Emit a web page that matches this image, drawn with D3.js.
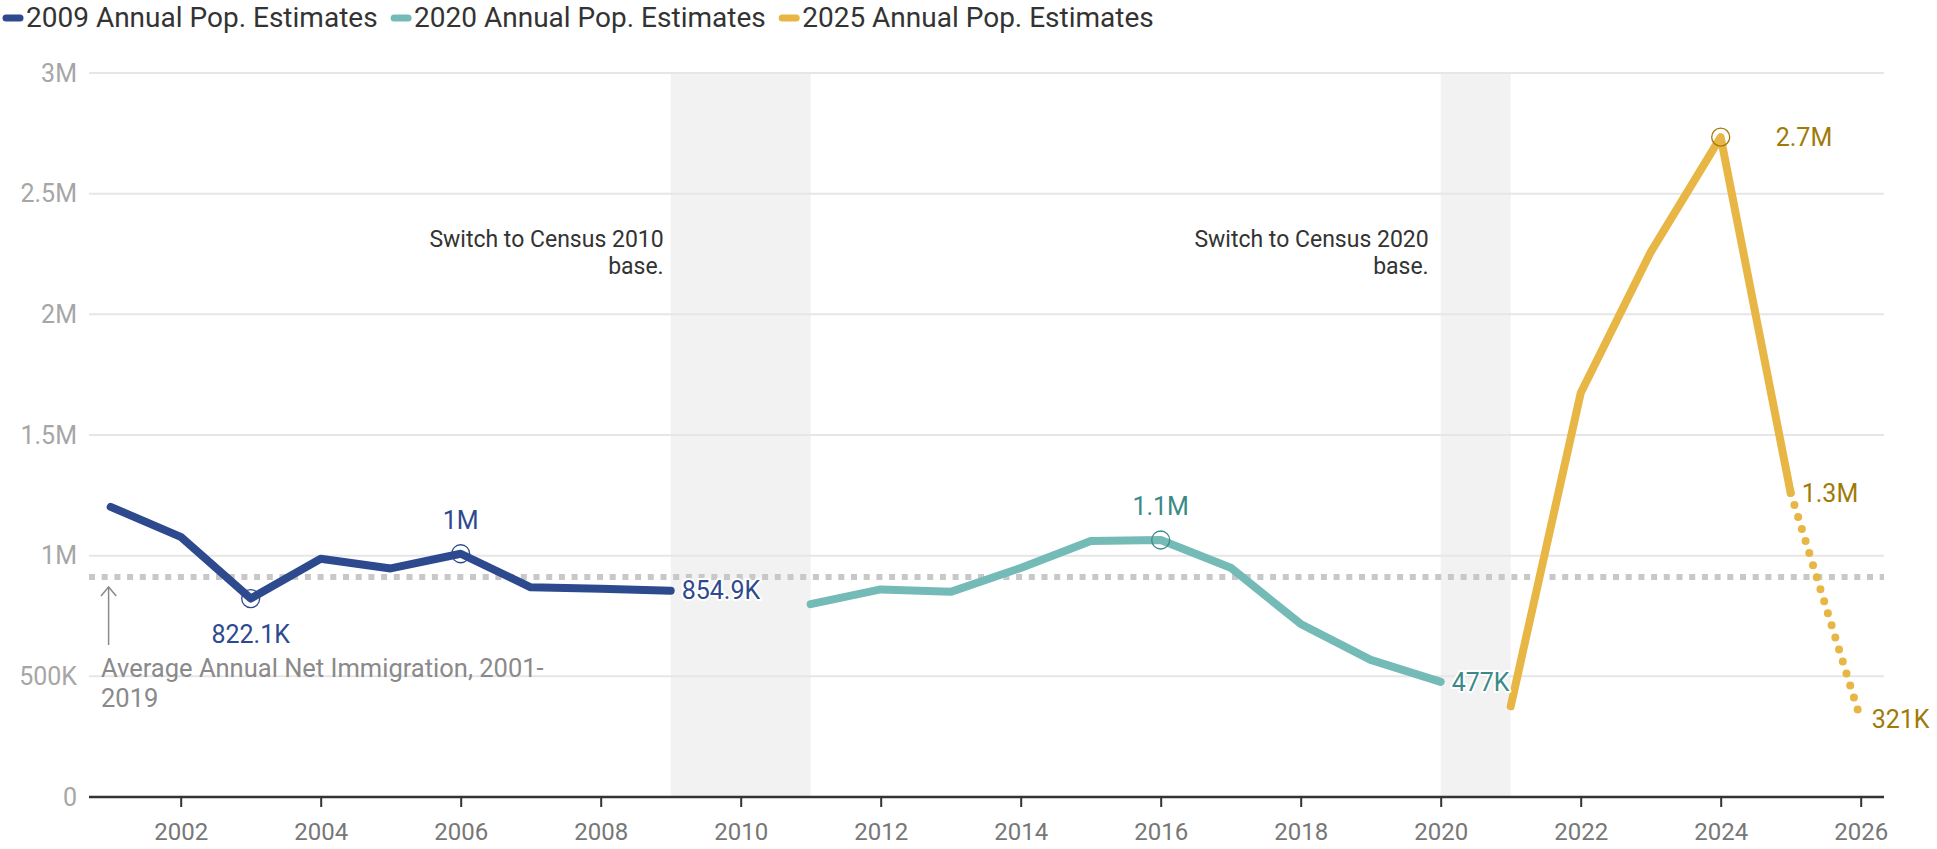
<!DOCTYPE html>
<html>
<head>
<meta charset="utf-8">
<script src="https://cdn.jsdelivr.net/npm/d3@7"></script>
<style>
  body { margin: 0; background: #fff; font-family: Roboto, "Noto Sans", sans-serif; }
  svg text { font-family: Roboto, "Noto Sans", sans-serif; }
</style>
</head>
<body>
<div id="chart"></div>
<script>
// series data (net international migration)
const years2009 = [2001, 2002, 2003, 2004, 2005, 2006, 2007, 2008, 2009]
const values2009 = [1202000, 1078000, 822100, 987000, 947000, 1008000, 869000, 863000, 854900]

const years2020 = [2011, 2012, 2013, 2014, 2015, 2016, 2017, 2018, 2019, 2020]
const values2020 = [799000, 860000, 850000, 949000, 1061000, 1065000, 950000, 717000, 568000, 477000]

const years2025 = [2021, 2022, 2023, 2024, 2025, 2026]
const values2025 = [376000, 1674000, 2258000, 2734000, 1260000, 321000]

const avgValue = 912000
const seriesNames = ["2009 Annual Pop. Estimates", "2020 Annual Pop. Estimates", "2025 Annual Pop. Estimates"]
const yTicks = [0, 500000, 1000000, 1500000, 2000000, 2500000, 3000000]
const xTicks = [2002, 2004, 2006, 2008, 2010, 2012, 2014, 2016, 2018, 2020, 2022, 2024, 2026]

// gray bands where the census base switches
const bands = [[2009, 2011], [2020, 2021]]
const bandNotes = [["Switch to Census 2010", "base."], ["Switch to Census 2020", "base."]]

const colors = ["#2e4a8e", "#74bbb8", "#e8b645"]
const labelColors = ["#2e4a8e", "#3b8a87", "#a07a08"]

const width = 1937
const height = 849
const plotLeft = 89
const plotRight = 1884

const svg = d3.select("#chart").append("svg")
  .attr("width", width)
  .attr("height", height)

const x = d3.scaleLinear().domain([2001, 2026]).range([110.7, 1860.7])
const y = d3.scaleLinear().domain([0, 3000000]).range([797, 73])

function fmt(v) {
  if (v === 0) return "0"
  if (v >= 1000000) return d3.format(".2~f")(v / 1000000) + "M"
  return d3.format(".1~f")(v / 1000) + "K"
}
function fmtLabel(v) {
  if (v >= 1000000) return d3.format(".1~f")(v / 1000000) + "M"
  return d3.format(".1~f")(v / 1000) + "K"
}

// bands
svg.selectAll("rect.band")
  .data(bands)
  .enter()
  .append("rect")
  .attr("class", "band")
  .attr("x", d => x(d[0]))
  .attr("width", d => x(d[1]) - x(d[0]))
  .attr("y", y(3000000))
  .attr("height", y(0) - y(3000000))
  .attr("fill", "#f2f2f2")

// gridlines
svg.selectAll("line.grid")
  .data(yTicks.filter(d => d > 0))
  .enter()
  .append("line")
  .attr("x1", plotLeft)
  .attr("x2", plotRight)
  .attr("y1", d => y(d))
  .attr("y2", d => y(d))
  .attr("stroke", "#e6e6e6")
  .attr("stroke-width", 2)

// y labels
svg.selectAll("text.ylab")
  .data(yTicks)
  .enter()
  .append("text")
  .attr("x", 77)
  .attr("y", d => y(d))
  .attr("dy", "0.35em")
  .attr("text-anchor", "end")
  .attr("font-size", 25)
  .attr("fill", "#a6a6a6")
  .text(fmt)

// x axis
const xAxis = d3.axisBottom(x).tickValues(xTicks).tickFormat(d3.format("d")).tickSize(10).tickPadding(16)
const gx = svg.append("g")
  .attr("transform", `translate(0, ${y(0)})`)
  .call(xAxis)
gx.select(".domain").remove()
gx.selectAll(".tick line").attr("stroke", "#333").attr("stroke-width", 2)
gx.selectAll(".tick text").attr("font-size", 24).attr("fill", "#777").attr("font-family", "Roboto")
gx.append("line")
  .attr("x1", plotLeft)
  .attr("x2", plotRight)
  .attr("stroke", "#333")
  .attr("stroke-width", 2.5)

// average line + annotation
svg.append("line")
  .attr("x1", plotLeft)
  .attr("x2", plotRight)
  .attr("y1", y(avgValue))
  .attr("y2", y(avgValue))
  .attr("stroke", "#c8c8c8")
  .attr("stroke-width", 6)
  .attr("stroke-dasharray", "6,6.7")

svg.append("line")
  .attr("x1", 108.6).attr("x2", 108.6)
  .attr("y1", y(avgValue) + 10).attr("y2", 645)
  .attr("stroke", "#8a8a8a").attr("stroke-width", 1.5)
svg.append("path")
  .attr("d", `M101,${y(avgValue) + 19}L108.6,${y(avgValue) + 10}L116.2,${y(avgValue) + 19}`)
  .attr("fill", "none").attr("stroke", "#8a8a8a").attr("stroke-width", 1.5)

const avgNote = svg.append("text")
  .attr("x", 101)
  .attr("y", 677)
  .attr("font-size", 25.5)
  .attr("fill", "#8a8a8a")
avgNote.append("tspan").attr("x", 101).text("Average Annual Net Immigration, 2001-")
avgNote.append("tspan").attr("x", 101).attr("dy", 30).text("2019")

// band notes
const noteGap = [7, 12]
bandNotes.forEach((lines, i) => {
  const t = svg.append("text")
    .attr("text-anchor", "end")
    .attr("font-size", 23)
    .attr("fill", "#333")
  lines.forEach((l, j) => {
    t.append("tspan")
      .attr("x", x(bands[i][0]) - noteGap[i])
      .attr("y", 246.7 + j * 27.5)
      .text(l)
  })
})

// lines
const line = d3.line().x(d => x(d[0])).y(d => y(d[1]))
const s1 = years2009.map((yr, i) => [yr, values2009[i]])
const s2 = years2020.map((yr, i) => [yr, values2020[i]])
const s3 = years2025.map((yr, i) => [yr, values2025[i]])

function drawLine(data, color, dashed) {
  svg.append("path")
    .datum(data)
    .attr("d", line)
    .attr("fill", "none")
    .attr("stroke", color)
    .attr("stroke-width", 8)
    .attr("stroke-linecap", "round")
    .attr("stroke-linejoin", "round")
    .attr("stroke-dasharray", dashed ? "0,12.6" : null)
}
drawLine(s1, colors[0])
drawLine(s2, colors[1])
drawLine(s3.slice(0, 5), colors[2])
drawLine(s3.slice(4), colors[2], true)

// markers on min/max points
const markers = [
  [s1[2], 0], [s1[5], 0], [s2[5], 1], [s3[3], 2]
]
svg.selectAll("circle.mk")
  .data(markers)
  .enter()
  .append("circle")
  .attr("cx", d => x(d[0][0]))
  .attr("cy", d => y(d[0][1]))
  .attr("r", 9)
  .attr("fill", "none")
  .attr("stroke", d => labelColors[d[1]])
  .attr("stroke-width", 1.3)

// point labels: [point, series, position, offset]
const labels = [
  [s1[2], 0, "below"], [s1[5], 0, "above"], [s1[8], 0, "right", 11],
  [s2[5], 1, "above"], [s2[9], 1, "right", 11],
  [s3[3], 2, "right", 55], [s3[4], 2, "right", 11], [s3[5], 2, "right", 11]
]
labels.forEach(([p, si, pos, off]) => {
  const t = svg.append("text")
    .attr("font-size", 25)
    .attr("fill", labelColors[si])
    .attr("stroke", "#fff")
    .attr("stroke-width", 4)
    .attr("paint-order", "stroke")
    .attr("stroke-linejoin", "round")
    .text(fmtLabel(p[1]))
  if (pos === "below") {
    t.attr("x", x(p[0])).attr("y", y(p[1]) + 44).attr("text-anchor", "middle")
  } else if (pos === "above") {
    t.attr("x", x(p[0])).attr("y", y(p[1]) - 25).attr("text-anchor", "middle")
  } else {
    t.attr("x", x(p[0]) + off).attr("y", y(p[1])).attr("dy", "0.35em")
  }
})

// legend
let lx = 3
seriesNames.forEach((name, i) => {
  svg.append("line")
    .attr("x1", lx + 3).attr("x2", lx + 17)
    .attr("y1", 18).attr("y2", 18)
    .attr("stroke", colors[i])
    .attr("stroke-width", 7)
    .attr("stroke-linecap", "round")
  const t = svg.append("text")
    .attr("x", lx + 23)
    .attr("y", 27)
    .attr("font-size", 28)
    .attr("fill", "#333")
    .text(name)
  lx += 23 + t.node().getComputedTextLength() + 13.5
})
</script>
</body>
</html>
